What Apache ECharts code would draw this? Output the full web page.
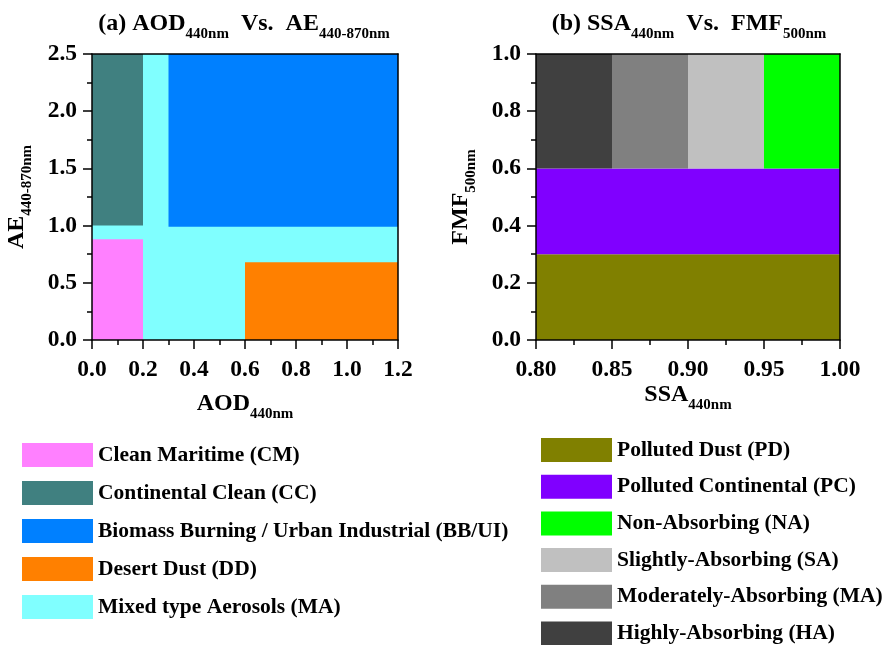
<!DOCTYPE html>
<html><head><meta charset="utf-8">
<script src="https://cdn.jsdelivr.net/npm/echarts@6/dist/echarts.min.js"></script>
<style>html,body{margin:0;padding:0;background:#fff}#c{width:890px;height:645px}</style>
</head><body><div id="c"></div>
<script>
// ---- data ----
const aodTicks = [0.0, 0.2, 0.4, 0.6, 0.8, 1.0, 1.2];
const aeTicks = [0.0, 0.5, 1.0, 1.5, 2.0, 2.5];
const ssaTicks = [0.80, 0.85, 0.90, 0.95, 1.00];
const fmfTicks = [0.0, 0.2, 0.4, 0.6, 0.8, 1.0];

const leftNames = ['Clean Maritime (CM)', 'Continental Clean (CC)', 'Biomass Burning / Urban Industrial (BB/UI)', 'Desert Dust (DD)', 'Mixed type Aerosols (MA)'];
const leftColors = ['#FF80FF', '#408080', '#0080FF', '#FF8000', '#80FFFF'];
// [aodMin, aeMin, aodMax, aeMax]
const leftRegions = [[0, 0, 0.2, 0.88], [0, 1.0, 0.2, 2.5], [0.3, 0.99, 1.2, 2.5], [0.6, 0, 1.2, 0.68], [0, 0, 1.2, 2.5]];
const leftDrawOrder = [4, 0, 1, 2, 3];

const rightNames = ['Polluted Dust (PD)', 'Polluted Continental (PC)', 'Non-Absorbing (NA)', 'Slightly-Absorbing (SA)', 'Moderately-Absorbing (MA)', 'Highly-Absorbing (HA)'];
const rightColors = ['#808000', '#8000FF', '#00FF00', '#C0C0C0', '#808080', '#404040'];
// [ssaMin, fmfMin, ssaMax, fmfMax]
const rightRegions = [[0.8, 0, 1.0, 0.3], [0.8, 0.3, 1.0, 0.6], [0.95, 0.6, 1.0, 1.0], [0.9, 0.6, 0.95, 1.0], [0.85, 0.6, 0.9, 1.0], [0.8, 0.6, 0.85, 1.0]];

// ---- styles ----
const FONT = 'Liberation Serif';
const rich = {
  m: { fontFamily: FONT, fontWeight: 'bold', fontSize: 24, color: '#000', verticalAlign: 'bottom', lineHeight: 32, padding: [0, 0, 7, 0] },
  s: { fontFamily: FONT, fontWeight: 'bold', fontSize: 15, color: '#000', verticalAlign: 'bottom', lineHeight: 32, padding: [0, 0, 1, 0] }
};

function rectItem(params, api) {
  const p0 = api.coord([api.value(0), api.value(3)]);
  const p1 = api.coord([api.value(2), api.value(1)]);
  return { type: 'rect', shape: { x: p0[0], y: p0[1], width: p1[0] - p0[0], height: p1[1] - p0[1] }, style: { fill: api.visual('color') } };
}

const tickFont = { fontFamily: FONT, fontWeight: 'bold', fontSize: 23.5, color: '#000' };

function mainX(grid, ticks, dec, name, gap) {
  return {
    gridIndex: grid, type: 'value', position: 'bottom', min: ticks[0], max: ticks[ticks.length - 1], interval: ticks[1] - ticks[0], z: 10,
    axisLine: { show: true, onZero: false, lineStyle: { color: '#000', width: 1.5 } },
    axisTick: { show: true, inside: false, length: 9, lineStyle: { color: '#000', width: 1.5 } },
    minorTick: { show: true, splitNumber: 2, length: 5, lineStyle: { color: '#000', width: 1.5 } },
    axisLabel: Object.assign({ margin: 18, formatter: v => v.toFixed(dec) }, tickFont),
    splitLine: { show: false },
    name: name, nameLocation: 'middle', nameGap: gap,
    nameTextStyle: { rich: rich }
  };
}
function mainY(grid, ticks, dec, name, gap) {
  return {
    gridIndex: grid, type: 'value', position: 'left', min: ticks[0], max: ticks[ticks.length - 1], interval: ticks[1] - ticks[0], z: 10,
    axisLine: { show: true, onZero: false, lineStyle: { color: '#000', width: 1.5 } },
    axisTick: { show: true, inside: false, length: 9, lineStyle: { color: '#000', width: 1.5 } },
    minorTick: { show: true, splitNumber: 2, length: 5, lineStyle: { color: '#000', width: 1.5 } },
    axisLabel: Object.assign({ margin: 15, formatter: v => v.toFixed(dec) }, tickFont),
    splitLine: { show: false },
    name: name, nameLocation: 'middle', nameGap: gap, nameRotate: 90,
    nameTextStyle: { rich: rich }
  };
}
function frameAxis(grid, pos, ticks) {
  return {
    gridIndex: grid, type: 'value', position: pos, min: ticks[0], max: ticks[ticks.length - 1], z: 10,
    axisLine: { show: true, onZero: false, lineStyle: { color: '#000', width: 1.5 } },
    axisTick: { show: false }, axisLabel: { show: false }, splitLine: { show: false }
  };
}

const series = [];
leftDrawOrder.forEach(i => {
  series.push({ type: 'custom', name: leftNames[i], xAxisIndex: 0, yAxisIndex: 0, renderItem: rectItem,
    itemStyle: { color: leftColors[i] }, encode: { x: [0, 2], y: [1, 3] }, data: [leftRegions[i]], silent: true });
});
rightNames.forEach((n, i) => {
  series.push({ type: 'custom', name: n, xAxisIndex: 2, yAxisIndex: 2, renderItem: rectItem,
    itemStyle: { color: rightColors[i] }, encode: { x: [0, 2], y: [1, 3] }, data: [rightRegions[i]], silent: true });
});

const legendText = { fontFamily: FONT, fontWeight: 'bold', fontSize: 21.5, color: '#000' };

const option = {
  animation: false,
  backgroundColor: '#fff',
  title: [
    { text: '{m|(a) AOD}{s|440nm}{m|  Vs.  AE}{s|440-870nm}', left: 244, top: 11, padding: 0, textAlign: 'center', textStyle: { rich: rich } },
    { text: '{m|(b) SSA}{s|440nm}{m|  Vs.  FMF}{s|500nm}', left: 689, top: 11, padding: 0, textAlign: 'center', textStyle: { rich: rich } }
  ],
  grid: [
    { left: 92, top: 54, width: 306, height: 286 },
    { left: 536, top: 54, width: 304, height: 286 }
  ],
  xAxis: [
    mainX(0, aodTicks, 1, '{m|AOD}{s|440nm}', 51),
    frameAxis(0, 'top', aodTicks),
    mainX(1, ssaTicks, 2, '{m|SSA}{s|440nm}', 40),
    frameAxis(1, 'top', ssaTicks)
  ],
  yAxis: [
    mainY(0, aeTicks, 1, '{m|AE}{s|440-870nm}', 56),
    frameAxis(0, 'right', aeTicks),
    mainY(1, fmfTicks, 1, '{m|FMF}{s|500nm}', 56),
    frameAxis(1, 'right', fmfTicks)
  ],
  legend: [
    { data: leftNames, orient: 'vertical', left: 22, top: 443, padding: 0, height: 300, itemWidth: 71, itemHeight: 24, itemGap: 14, icon: 'rect', textStyle: legendText, selectedMode: false },
    { data: rightNames, orient: 'vertical', left: 541, top: 438, padding: 0, height: 300, itemWidth: 71, itemHeight: 24, itemGap: 12.7, icon: 'rect', textStyle: legendText, selectedMode: false }
  ],
  series: series
};
const chart = echarts.init(document.getElementById('c'), null, { renderer: 'canvas' });
chart.setOption(option);
</script>
</body></html>
